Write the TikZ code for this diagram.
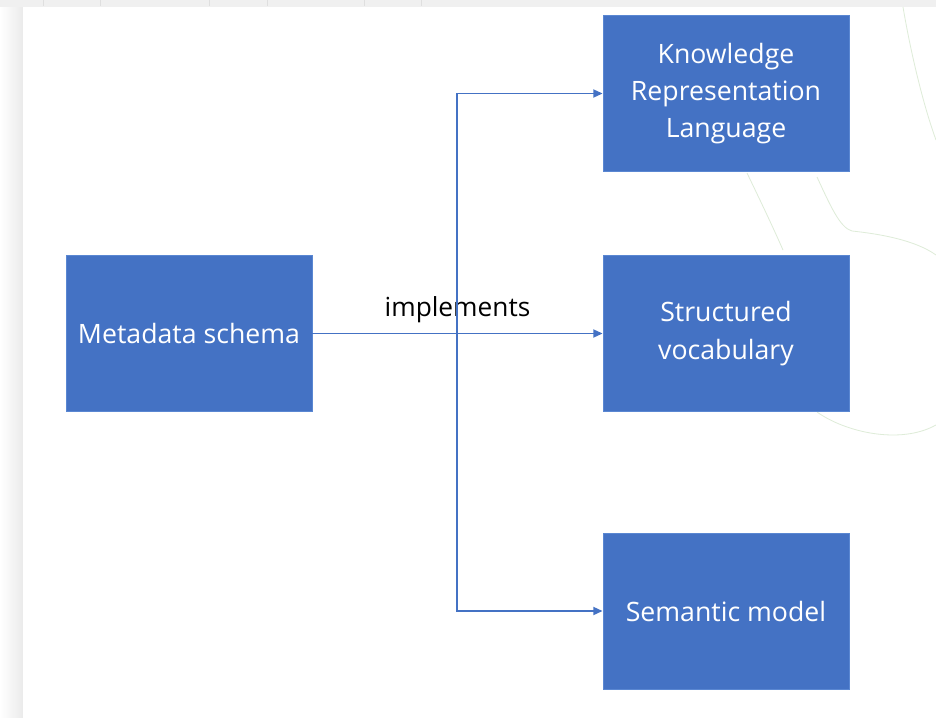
\documentclass[tikz,border=0pt]{standalone}
\usepackage{fontspec}
\setmainfont{Open Sans}
\usetikzlibrary{arrows.meta, positioning}
\definecolor{boxblue}{RGB}{68,114,196}
\definecolor{edgeblue}{RGB}{90,135,210}
\definecolor{pagegrey}{RGB}{240,240,240}
\definecolor{faintgreen}{RGB}{222,236,216}
\tikzset{
    block/.style={rectangle, fill=boxblue, draw=edgeblue, line width=0.6pt, minimum width=184.5pt, minimum height=117pt, text=white, align=center, font=\fontsize{20}{28}\selectfont},
    link/.style={-{Triangle[length=7pt, width=6pt]}, line width=1.4pt, draw=boxblue},
}
\begin{document}
\begin{tikzpicture}[x=0.75pt, y=-0.75pt]
    \useasboundingbox (0,0) rectangle (936,718);
    \fill[pagegrey] (0,0) rectangle (936,718);
    \shade[left color=white, right color=gray!16] (0,7) rectangle (23,718);
    \fill[white] (23,7) rectangle (936,718);
    \foreach \gx in {43,100,209,267,364,421} {
        \draw[gray!25, line width=0.5pt] (\gx,0) -- (\gx,6);
    }
    \draw[faintgreen, line width=0.6pt] (903,7) .. controls (912,60) and (925,110) .. (936,140);
    \draw[faintgreen, line width=0.6pt] (747,173) .. controls (760,200) and (772,225) .. (783,250);
    \draw[faintgreen, line width=0.6pt] (817,177) .. controls (830,205) and (840,228) .. (852,231) .. controls (880,234) and (915,240) .. (936,255);
    \draw[faintgreen, line width=0.6pt] (817,412) .. controls (845,432) and (900,445) .. (936,425);

    \node[block] (meta) at (189,333.5) {Metadata schema};
    \node[block] (krl) at (726,93.5) {Knowledge\\Representation\\Language};
    \node[block] (vocab) at (726,333.5) {Structured\\vocabulary};
    \node[block] (semantic) at (726,611) {Semantic model};

    \coordinate (bus) at (457,333.5);
    \draw[link] (meta) -- node[above=4pt, text=black, font=\fontsize{19.7}{22}\selectfont] (impl) {implements} (vocab);
    \draw[link] (bus) |- (krl);
    \draw[link] (bus) |- (semantic);
\end{tikzpicture}
\end{document}
